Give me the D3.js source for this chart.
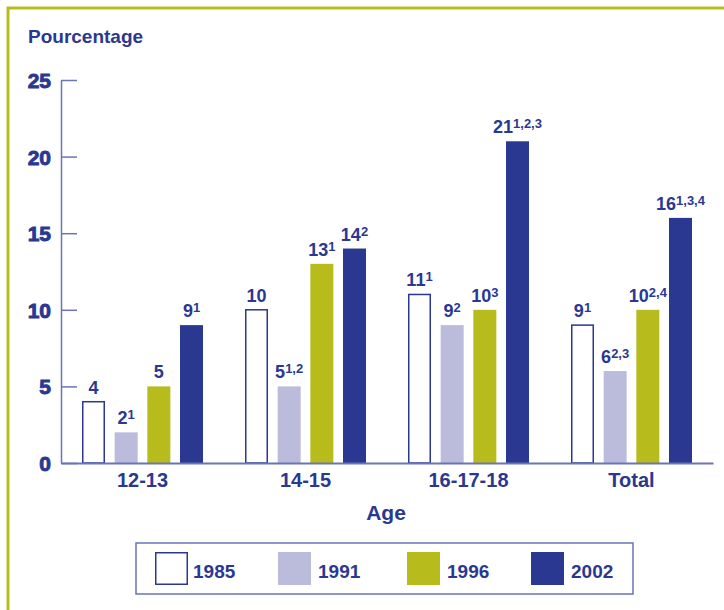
<!DOCTYPE html>
<html>
<head>
<meta charset="utf-8">
<script src="https://cdn.jsdelivr.net/npm/d3@7"></script>
<style>
  body { margin: 0; background: #fff; }
  text { font-family: "Liberation Sans", Arial, sans-serif; font-weight: bold; fill: #2a3891; }
</style>
</head>
<body>
<div id="chart"></div>
<script>
const categories = ["12-13", "14-15", "16-17-18", "Total"];
const years = ["1985", "1991", "1996", "2002"];
const values = {
  "1985": [4, 10, 11, 9],
  "1991": [2, 5, 9, 6],
  "1996": [5, 13, 10, 10],
  "2002": [9, 14, 21, 16]
};
const notes = {
  "1985": ["", "", "1", "1"],
  "1991": ["1", "1,2", "2", "2,3"],
  "1996": ["", "1", "3", "2,4"],
  "2002": ["1", "2", "1,2,3", "1,3,4"]
};
const yTicks = [0, 5, 10, 15, 20, 25];

const navy = "#2a3891", axisCol = "#6a74b8";
const fills = { "1985": "#fff", "1991": "#bbbbdc", "1996": "#b7bc1c", "2002": navy };

const width = 724, height = 610;
const svg = d3.select("#chart").append("svg")
  .attr("width", width).attr("height", height);

// frame (left and top only)
svg.append("path")
  .attr("d", "M8,610 V8 H724")
  .attr("fill", "none").attr("stroke", "#b6bd1f").attr("stroke-width", 3);

const x0 = d3.scaleBand().domain(categories).range([61, 713]);
const x1 = d3.scaleBand().domain(years).range([21, 142]).paddingInner(0.296);
const y = d3.scaleLinear().domain([0, 25]).range([463, 80]);

svg.append("text").attr("x", 28).attr("y", 43)
  .style("font-size", "19px").text("Pourcentage");

// y axis
const yAxis = svg.append("g").attr("transform", "translate(61,0)")
  .call(d3.axisLeft(y).tickValues(yTicks).tickSizeInner(-16).tickSizeOuter(0).tickPadding(10));
yAxis.select(".domain").attr("stroke", axisCol).attr("stroke-width", 1.5);
yAxis.selectAll(".tick line").attr("stroke", axisCol).attr("stroke-width", 1.5);
yAxis.selectAll(".tick text")
  .attr("fill", navy).attr("stroke", navy).attr("stroke-width", 0.9)
  .style("font-size", "21px")
  .attr("dy", "0.36em");

// bars
const data = [];
categories.forEach((c, i) => years.forEach(yr => {
  data.push({ cat: c, year: yr, v: values[yr][i], note: notes[yr][i] });
}));

const groups = svg.append("g");
groups.selectAll("rect").data(data).enter().append("rect")
  .attr("x", d => x0(d.cat) + x1(d.year) + (d.year === "1985" ? 0.75 : 0))
  .attr("y", d => y(d.v))
  .attr("width", d => x1.bandwidth() - (d.year === "1985" ? 1.5 : 0))
  .attr("height", d => y(0) - y(d.v))
  .attr("fill", d => fills[d.year])
  .attr("stroke", d => d.year === "1985" ? navy : "none")
  .attr("stroke-width", 1.5);

const labels = groups.selectAll("text.val").data(data).enter().append("text")
  .attr("class", "val")
  .attr("x", d => x0(d.cat) + x1(d.year) + x1.bandwidth() / 2)
  .attr("y", d => y(d.v) - 8)
  .attr("text-anchor", "middle")
  .style("font-size", "18px");
labels.append("tspan").text(d => d.v);
labels.filter(d => d.note).append("tspan")
  .attr("dy", -5).style("font-size", "13px").text(d => d.note);

// x axis
const xAxis = svg.append("g").attr("transform", "translate(0,463)")
  .call(d3.axisBottom(x0).tickSize(0).tickSizeOuter(0).tickPadding(10));
xAxis.select(".domain").attr("stroke", axisCol).attr("stroke-width", 2);
xAxis.selectAll(".tick text")
  .attr("fill", navy).style("font-size", "20px").attr("dy", "0.71em");

svg.append("text").attr("x", 386).attr("y", 520)
  .attr("text-anchor", "middle").style("font-size", "21px").text("Age");

// legend
svg.append("rect").attr("x", 136).attr("y", 543).attr("width", 497).attr("height", 51)
  .attr("fill", "none").attr("stroke", axisCol).attr("stroke-width", 1.5);
const legendX = [155, 278, 407, 531];
const leg = svg.append("g").selectAll("g").data(years).enter().append("g")
  .attr("transform", (d, i) => `translate(${legendX[i]},552)`);
leg.append("rect")
  .attr("x", d => d === "1985" ? 0.75 : 0).attr("y", d => d === "1985" ? 0.75 : 0)
  .attr("width", d => d === "1985" ? 31.5 : 33).attr("height", d => d === "1985" ? 31.5 : 33)
  .attr("fill", d => fills[d])
  .attr("stroke", d => d === "1985" ? navy : "none").attr("stroke-width", 1.5);
leg.append("text").attr("x", d => d === "1985" ? 38 : 40).attr("y", 26)
  .style("font-size", "19px").text(d => d);
</script>
</body>
</html>
